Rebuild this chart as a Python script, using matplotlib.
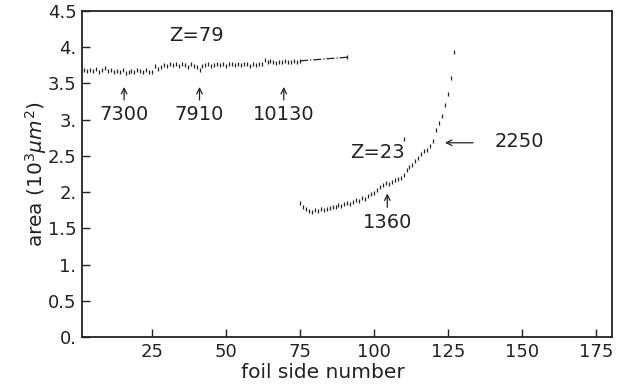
import matplotlib.pyplot as plt

# Z=79 foil areas (10^3 um^2), one value per foil side
x79 = list(range(1, 76))
y79 = [3.66, 3.68, 3.67, 3.69, 3.67, 3.70, 3.66, 3.68, 3.71, 3.67,
       3.68, 3.65, 3.67, 3.66, 3.68, 3.64, 3.66, 3.67, 3.65, 3.68,
       3.67, 3.66, 3.68, 3.65, 3.66, 3.74, 3.70, 3.73, 3.75, 3.74,
       3.76, 3.75, 3.77, 3.74, 3.76, 3.75, 3.73, 3.76, 3.74, 3.72,
       3.69, 3.74, 3.75, 3.76, 3.74, 3.75, 3.77, 3.75, 3.76, 3.74,
       3.76, 3.77, 3.75, 3.76, 3.75, 3.77, 3.76, 3.74, 3.77, 3.75,
       3.76, 3.77, 3.82, 3.80, 3.81, 3.79, 3.78, 3.80, 3.79, 3.81,
       3.79, 3.80, 3.81, 3.80, 3.81]

# extrapolated tail for Z=79
x79_ext = [75, 91]
y79_ext = [3.81, 3.86]

# Z=23 foil areas
x23 = list(range(75, 128))
y23 = [1.85, 1.80, 1.76, 1.74, 1.73, 1.75, 1.74, 1.76, 1.75, 1.77,
       1.78, 1.79, 1.80, 1.82, 1.81, 1.84, 1.85, 1.83, 1.87, 1.89,
       1.88, 1.92, 1.90, 1.94, 1.97, 1.99, 2.03, 2.07, 2.10, 2.12,
       2.11, 2.14, 2.16, 2.18, 2.20, 2.24, 2.30, 2.34, 2.38, 2.43,
       2.47, 2.52, 2.56, 2.58, 2.63, 2.70, 2.85, 2.95, 3.05, 3.20,
       3.35, 3.58, 3.93]
x23_out = [110]
y23_out = [2.73]

xticks = [25, 50, 75, 100, 125, 150, 175]
yticks = [0, 0.5, 1, 1.5, 2, 2.5, 3, 3.5, 4, 4.5]
ylabels = ["0.", "0.5", "1.", "1.5", "2.", "2.5", "3.", "3.5", "4.", "4.5"]

ink = "#222222"
plt.rcParams['font.family'] = ['DejaVu Sans']

fig = plt.figure(figsize=(6.22, 3.87), dpi=100)
ax = fig.add_axes([0.132, 0.129, 0.852, 0.843])

ms = dict(linestyle="none", marker="|", markersize=3.2, markeredgewidth=0.9, color=ink)
ax.plot(x79, y79, **ms)
ax.plot(x79_ext, y79_ext, linestyle="-.", linewidth=0.9, color=ink)
ax.plot([x79_ext[-1]], [y79_ext[-1]], **ms)
ax.plot(x23, y23, **ms)
ax.plot(x23_out, y23_out, **ms)

ax.set_xlim(1.3, 180.5)
ax.set_ylim(0, 4.5)
ax.set_xticks(xticks)
ax.set_xticklabels([str(t) for t in xticks])
ax.set_yticks(yticks)
ax.set_yticklabels(ylabels)
ax.tick_params(direction="in", length=6, width=1, colors=ink, labelsize=13, pad=4)
for s in ax.spines.values():
    s.set_linewidth(1.3)
    s.set_color(ink)

ax.set_xlabel("foil side number", fontsize=14.5, color=ink)
ax.set_ylabel(r"area $(10^3\mu m^2)$", fontsize=14.5, color=ink)
ax.xaxis.set_label_coords(0.455, -0.08)
ax.yaxis.set_label_coords(-0.062, 0.5)

fs = 14
ax.text(40, 4.16, "Z=79", fontsize=fs, ha="center", va="center", color=ink)
ax.text(101, 2.54, "Z=23", fontsize=fs, ha="center", va="center", color=ink)

arrow = dict(arrowstyle="->", lw=0.9, color=ink, shrinkA=0, shrinkB=0)
for xv, lab in [(15.5, "7300"), (41, "7910"), (69.5, "10130")]:
    ax.text(xv, 3.07, lab, fontsize=fs, ha="center", va="center", color=ink)
    ax.annotate("", xy=(xv, 3.45), xytext=(xv, 3.27), arrowprops=arrow)

ax.text(104.5, 1.58, "1360", fontsize=fs, ha="center", va="center", color=ink)
ax.annotate("", xy=(104.5, 1.98), xytext=(104.5, 1.79), arrowprops=arrow)

ax.text(149, 2.7, "2250", fontsize=fs, ha="center", va="center", color=ink)
ax.annotate("", xy=(124, 2.68), xytext=(133.5, 2.68), arrowprops=arrow)

fig.savefig("out.png", dpi=100)
